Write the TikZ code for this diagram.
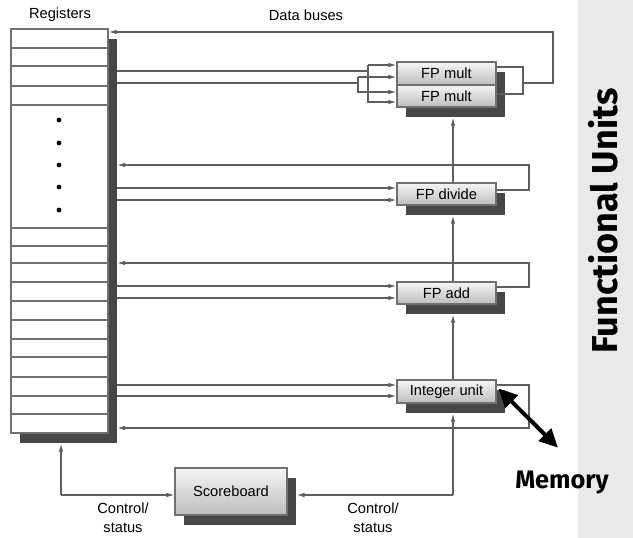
\documentclass[tikz,border=0pt]{standalone}
\usepackage{fontspec}
\setmainfont{Liberation Sans}
\newfontfamily\handfont{Fira Sans}
\usepackage{xcolor}
\usepackage{tikz}
\usetikzlibrary{arrows.meta,calc,shadows}
\definecolor{busgray}{HTML}{5E5E5E}
\definecolor{boxgray}{HTML}{707070}
\definecolor{shadegray}{HTML}{474747}
\definecolor{bandgray}{HTML}{E9E9E9}
\tikzstyle{line}=[draw=busgray,line width=0.9pt]
\tikzstyle{unit}=[draw=boxgray,line width=0.8pt,top color=gray!8,bottom color=gray!52,minimum width=74.25pt,minimum height=16.5pt,inner sep=0pt,drop shadow={shadow xshift=6.75pt,shadow yshift=-7.5pt,fill=shadegray,opacity=1}]
\tikzstyle{regfile}=[draw=boxgray,line width=0.8pt,fill=white,minimum width=72.75pt,minimum height=303pt,inner sep=0pt,drop shadow={shadow xshift=6.75pt,shadow yshift=-7.5pt,fill=shadegray,opacity=1}]

\begin{document}
\begin{tikzpicture}[x=0.75pt,y=-0.75pt,font=\fontsize{11}{14}\selectfont,>={Latex[length=6pt,width=3.4pt]}]
\useasboundingbox (0,0) rectangle (633,538);
\fill[bandgray] (578,0) rectangle (633,538);
\node[] (regtitle) at (60,15){Registers};
\node[] (bustitle) at (306,15){Data buses};
%register file
\node[regfile] (regs) at (59.5,231){};
\foreach \y in {48,66,86,105,228,246,263,282,301,320,339,357,377,396,414}
  \draw[line,draw=boxgray] (regs.west |- 0,\y) -- (regs.east |- 0,\y);
\foreach \y in {120,143,165,187,210}
  \fill (59,\y) circle[radius=1.8pt];
\coordinate (rbus) at (117,231);
%functional units
\node[unit,minimum height=17.25pt] (multone) at (446.5,73.5){FP mult};
\node[unit] (multtwo) at (446.5,96){FP mult};
\node[unit] (divide) at (446.5,194){FP divide};
\node[unit] (add) at (446.5,293){FP add};
\node[unit,minimum height=17.25pt] (integer) at (446.5,391.5){Integer unit};
\node[unit,minimum width=84pt,minimum height=35.25pt] (score) at (231,491.5){Scoreboard};
\node[align=center] (ctrlone) at (123,518){Control/\\status};
\node[align=center] (ctrltwo) at (373,518){Control/\\status};
%buses to mult
\draw[line] (rbus |- 0,71) -- (368,71);
\draw[line,->] (368,65) -- (multone.west |- 0,65);
\draw[line,->] (368,65) |- (multtwo.west |- 0,102);
\draw[line] (rbus |- 0,83) -- (358,83);
\draw[line,->] (358,77) -- (multone.west |- 0,77);
\draw[line,->] (358,77) |- (multtwo.west |- 0,92);
\draw[line] (multone.east |- 0,67) -| (523,94) -- (multtwo.east |- 0,94);
\draw[line,->] (523,83) -| (553,32) -- (regs.east |- 0,32);
%divide
\draw[line,->] (rbus |- 0,188) -- (divide.west |- 0,188);
\draw[line,->] (rbus |- 0,200) -- (divide.west |- 0,200);
\draw[line,->] (divide.east |- 0,190) -| (529,165) -- (rbus |- 0,165);
%add
\draw[line,->] (rbus |- 0,286) -- (add.west |- 0,286);
\draw[line,->] (rbus |- 0,298) -- (add.west |- 0,298);
\draw[line,->] (add.east |- 0,287) -| (529,263) -- (rbus |- 0,263);
%integer
\draw[line,->] (rbus |- 0,385) -- (integer.west |- 0,385);
\draw[line,->] (rbus |- 0,396) -- (integer.west |- 0,396);
\draw[line,->] (integer.east |- 0,385) -| (529,428) -- (rbus |- 0,428);
%control/status
\coordinate (cs) at (453,495);
\coordinate (cl) at (61,495);
\draw[line,->] (cs) -- ($(integer.south)+(6.5,10)$);
\draw[line,->] ($(integer.north)+(6.5,0)$) -- ($(add.south)+(6.5,10)$);
\draw[line,->] ($(add.north)+(6.5,0)$) -- ($(divide.south)+(6.5,10)$);
\draw[line,->] ($(divide.north)+(6.5,0)$) -- ($(multtwo.south)+(6.5,10)$);
\draw[line,->] (cs) -- ($(score.east)+(9,3.5)$);
\draw[line,->] (cl) -- ($(regs.south)+(1.5,10)$);
\draw[line,->] (cl) -- (score.west |- cl);
%memory
\node[font=\handfont\bfseries\fontsize{19}{22}\selectfont] (memory) at (562,483){Memory};
\draw[line width=3pt,{Triangle[length=14pt,width=13pt]}-{Triangle[length=14pt,width=13pt]}] ($(integer.east)+(2,-3)$) -- ($(memory.north)+(-4,-19)$);
\node[rotate=90,font=\handfont\bfseries\fontsize{27}{30}\selectfont] (funits) at (603,221){Functional Units};
\end{tikzpicture}
\end{document}
